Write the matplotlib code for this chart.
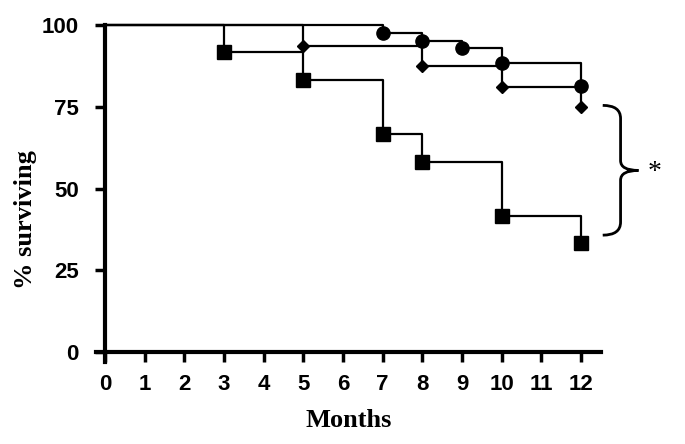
import numpy as np
import matplotlib.pyplot as plt
from matplotlib.path import Path
from matplotlib.patches import PathPatch

# survival curves (months, % surviving) - event times and values
circle_t = [7, 8, 9, 10, 12]
circle_v = [97.7, 95.3, 93.0, 88.4, 81.4]
diamond_t = [5, 8, 10, 12]
diamond_v = [93.75, 87.5, 81.25, 75.0]
square_t = [3, 5, 7, 8, 10, 12]
square_v = [91.7, 83.3, 66.7, 58.3, 41.7, 33.3]

x_ticks = list(range(0, 13))
y_ticks = [0, 25, 50, 75, 100]

fig = plt.figure(figsize=(6.85, 4.44), dpi=100)
ax = fig.add_axes([0.140, 0.1847, 0.737, 0.762])

for t, v, m, ms in [(circle_t, circle_v, 'o', 9.5),
                    (diamond_t, diamond_v, 'D', 6.5),
                    (square_t, square_v, 's', 9.5)]:
    xs = [0] + t
    ys = [100] + v
    ax.step(xs, ys, where='post', color='black', lw=1.6, clip_on=False)
    ax.plot(t, v, m, color='black', ms=ms, clip_on=False, zorder=5)

ax.set_xlim(-0.23, 12.5)
ax.set_ylim(-3, 100.5)
ax.spines['left'].set_position(('data', 0))
ax.spines['bottom'].set_position(('data', 0))
ax.spines['left'].set_bounds(-3, 100)
ax.spines['right'].set_visible(False)
ax.spines['top'].set_visible(False)
for s in ['left', 'bottom']:
    ax.spines[s].set_linewidth(3)

ax.set_xticks(x_ticks)
ax.set_yticks(y_ticks)
ax.tick_params(axis='both', direction='out', length=7, width=2.5,
               labelsize=16)
ax.tick_params(axis='y', pad=12)
ax.tick_params(axis='x', pad=9)
for lab in ax.get_xticklabels() + ax.get_yticklabels():
    lab.set_fontfamily('Liberation Sans')
    lab.set_fontweight('bold')

ax.set_xlabel('Months', fontfamily='Liberation Serif', fontweight='bold',
              fontsize=19)
ax.xaxis.set_label_coords(0.5, -0.14)
ax.set_ylabel('% surviving', fontfamily='Liberation Serif', fontweight='bold',
              fontsize=19)
ax.yaxis.set_label_coords(-0.117, 0.42)

# curly brace marking significance
x0, xm, xt = 12.55, 13.0, 13.45
ytop, ymid, ybot = 75.5, 55.6, 35.8
verts = [(x0, ytop), (xm, ytop), (xm, ytop - 4),
         (xm, ymid + 3),
         (xm, ymid), (xt, ymid),
         (xm, ymid), (xm, ymid - 3),
         (xm, ybot + 4),
         (xm, ybot), (x0, ybot)]
codes = [Path.MOVETO, Path.CURVE3, Path.CURVE3,
         Path.LINETO,
         Path.CURVE3, Path.CURVE3,
         Path.CURVE3, Path.CURVE3,
         Path.LINETO,
         Path.CURVE3, Path.CURVE3]
ax.add_patch(PathPatch(Path(verts, codes), fill=False, lw=2,
                       clip_on=False))
ax.text(13.85, 55, '*', fontsize=20, fontfamily='Liberation Serif',
        ha='center', va='center', clip_on=False)

fig.savefig('out.png', dpi=100)
